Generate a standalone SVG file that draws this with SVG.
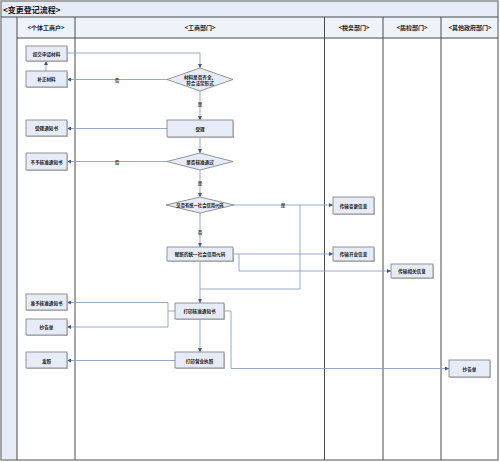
<svg xmlns="http://www.w3.org/2000/svg" width="500" height="462" viewBox="0 0 500 462">
<defs>
<style>
.frame{fill:none;stroke:#8a8a8a;stroke-width:1.5}
.lane{stroke:#4a4a4a;stroke-width:1;fill:none}
.band{fill:#e6ecf7}
.hdr{fill:#eef2f9}
.box{fill:#e6ecf7;stroke:#7a7a7a;stroke-width:0.8}
.shadow{fill:#c8c8c8}
.t{font-family:"Noto Sans CJK SC","Noto Sans",sans-serif;font-size:4.6px;font-weight:bold;fill:#222;text-anchor:middle;dominant-baseline:central}
.h{font-family:"Noto Sans CJK SC","Noto Sans",sans-serif;font-size:6px;font-weight:bold;fill:#222;text-anchor:middle;dominant-baseline:central}
.title{font-family:"Noto Sans CJK SC","Noto Sans",sans-serif;font-size:8px;font-weight:bold;fill:#111;dominant-baseline:central}
.c{fill:none;stroke:#8a9fc2;stroke-width:0.9}
.lbl{font-family:"Noto Sans CJK SC","Noto Sans",sans-serif;font-size:4.6px;font-weight:bold;fill:#444;text-anchor:middle;dominant-baseline:central}
</style>
<marker id="arr" viewBox="0 0 6 6" refX="6" refY="3" markerWidth="4" markerHeight="4" orient="auto" markerUnits="userSpaceOnUse">
<path d="M0,0 L6,3 L0,6 Z" fill="#3d5a8a"/>
</marker>
</defs>
<rect x="0" y="0" width="500" height="462" fill="#ffffff"/>
<g id="pool">
<rect class="band" x="1" y="1" width="497" height="16"/>
<rect class="band" x="1" y="17" width="16" height="443"/>
<rect class="hdr" x="17" y="17" width="481" height="21"/>
<rect class="frame" x="1" y="1" width="497" height="459"/>
<line class="lane" x1="1" y1="17" x2="498" y2="17"/>
<line class="lane" x1="17" y1="38" x2="498" y2="38"/>
<line class="lane" x1="17" y1="17" x2="17" y2="460"/>
<line class="lane" x1="75" y1="17" x2="75" y2="460"/>
<line class="lane" x1="324.5" y1="17" x2="324.5" y2="460"/>
<line class="lane" x1="383" y1="17" x2="383" y2="460"/>
<line class="lane" x1="441" y1="17" x2="441" y2="460"/>
<text class="title" x="3" y="9.5">&lt;变更登记流程&gt;</text>
<text class="h" x="46" y="27.5">&lt;个体工商户&gt;</text>
<text class="h" x="200" y="27.5">&lt;工商部门&gt;</text>
<text class="h" x="354" y="27.5">&lt;税务部门&gt;</text>
<text class="h" x="412" y="27.5">&lt;质检部门&gt;</text>
<text class="h" x="470" y="27.5">&lt;其他政府部门&gt;</text>
</g>
<g id="connectors">
<polyline class="c" points="67,53 200,53 200,68" marker-end="url(#arr)"/>
<line class="c" x1="167" y1="79.5" x2="67" y2="79.5" marker-end="url(#arr)"/>
<line class="c" x1="46" y1="71" x2="46" y2="61" marker-end="url(#arr)"/>
<line class="c" x1="200" y1="91" x2="200" y2="120" marker-end="url(#arr)"/>
<line class="c" x1="167" y1="128.5" x2="67" y2="128.5" marker-end="url(#arr)"/>
<line class="c" x1="200" y1="137" x2="200" y2="153" marker-end="url(#arr)"/>
<line class="c" x1="167" y1="161.5" x2="67" y2="161.5" marker-end="url(#arr)"/>
<line class="c" x1="200" y1="170" x2="200" y2="197" marker-end="url(#arr)"/>
<line class="c" x1="234" y1="205" x2="333" y2="205" marker-end="url(#arr)"/>
<polyline class="c" points="300,205 300,289 200,289"/>
<line class="c" x1="200" y1="213" x2="200" y2="247" marker-end="url(#arr)"/>
<line class="c" x1="233" y1="254" x2="333" y2="254" marker-end="url(#arr)"/>
<polyline class="c" points="239,254 239,271 391,271" marker-end="url(#arr)"/>
<line class="c" x1="200" y1="261" x2="200" y2="303" marker-end="url(#arr)"/>
<polyline class="c" points="175,311 168,311 168,302.5 67,302.5" marker-end="url(#arr)"/>
<polyline class="c" points="168,311 168,327 67,327" marker-end="url(#arr)"/>
<line class="c" x1="200" y1="319" x2="200" y2="352" marker-end="url(#arr)"/>
<line class="c" x1="175" y1="360.5" x2="67" y2="360.5" marker-end="url(#arr)"/>
<polyline class="c" points="224,311 231,311 231,368.5 449,368.5" marker-end="url(#arr)"/>
<text class="lbl" x="117" y="79.5">否</text>
<text class="lbl" x="200" y="104">是</text>
<text class="lbl" x="117" y="161.5">否</text>
<text class="lbl" x="200" y="183">是</text>
<text class="lbl" x="283" y="205">是</text>
<text class="lbl" x="200" y="231.5">否</text>
</g>
<g id="n1"><rect class="shadow" x="27" y="47" width="41" height="15"/><rect class="box" x="26" y="46" width="41" height="15"/><text class="t" x="46.5" y="53.5">提交申请材料</text></g>
<g id="n2"><rect class="shadow" x="27" y="72" width="41" height="16"/><rect class="box" x="26" y="71" width="41" height="16"/><text class="t" x="46.5" y="79">补正材料</text></g>
<g id="d1"><polygon points="200,68 233,79.5 200,91 167,79.5" fill="#e6ecf7" stroke="#7a7a7a" stroke-width="0.8"/><text class="t" x="200" y="76.5">材料是否齐全、</text><text class="t" x="200" y="82.5">符合法定形式</text></g>
<g id="n3"><rect class="shadow" x="168" y="121" width="66" height="17"/><rect class="box" x="167" y="120" width="66" height="17"/><text class="t" x="200" y="128.5">受理</text></g>
<g id="n4"><rect class="shadow" x="27" y="121" width="41" height="16"/><rect class="box" x="26" y="120" width="41" height="16"/><text class="t" x="46.5" y="128">受理通知书</text></g>
<g id="d2"><polygon points="200,153 233,161.5 200,170 167,161.5" fill="#e6ecf7" stroke="#7a7a7a" stroke-width="0.8"/><text class="t" x="200" y="161.5">是否核准通过</text></g>
<g id="n5"><rect class="shadow" x="27" y="154" width="41" height="17"/><rect class="box" x="26" y="153" width="41" height="17"/><text class="t" x="46.5" y="161.5">不予核准通知书</text></g>
<g id="d3"><polygon points="200,197 234,205 200,213 166,205" fill="#e6ecf7" stroke="#7a7a7a" stroke-width="0.8"/><text class="t" x="200" y="205" style="font-size:4.3px">是否有统一社会信用代码</text></g>
<g id="n6"><rect class="shadow" x="334" y="198" width="41" height="17"/><rect class="box" x="333" y="197" width="41" height="17"/><text class="t" x="353.5" y="205.5">传输变更信息</text></g>
<g id="n7"><rect class="shadow" x="168" y="248" width="66" height="14"/><rect class="box" x="167" y="247" width="66" height="14"/><text class="t" x="200" y="254">赋新的统一社会信用代码</text></g>
<g id="n8"><rect class="shadow" x="334" y="248" width="41" height="14"/><rect class="box" x="333" y="247" width="41" height="14"/><text class="t" x="353.5" y="254">传输开业信息</text></g>
<g id="n9"><rect class="shadow" x="392" y="265" width="42" height="14"/><rect class="box" x="391" y="264" width="42" height="14"/><text class="t" x="412" y="271">传输相关信息</text></g>
<g id="n10"><rect class="shadow" x="27" y="295" width="41" height="16"/><rect class="box" x="26" y="294" width="41" height="16"/><text class="t" x="46.5" y="302.5">准予核准通知书</text></g>
<g id="n11"><rect class="shadow" x="176" y="304" width="49" height="16"/><rect class="box" x="175" y="303" width="49" height="16"/><text class="t" x="199.5" y="311">打印核准通知书</text></g>
<g id="n12"><rect class="shadow" x="27" y="320" width="41" height="16"/><rect class="box" x="26" y="319" width="41" height="16"/><text class="t" x="46.5" y="327">抄告单</text></g>
<g id="n13"><rect class="shadow" x="27" y="353" width="41" height="16"/><rect class="box" x="26" y="352" width="41" height="16"/><text class="t" x="46.5" y="360.5">发照</text></g>
<g id="n14"><rect class="shadow" x="176" y="353" width="49" height="16"/><rect class="box" x="175" y="352" width="49" height="16"/><text class="t" x="199.5" y="360.5">打印营业执照</text></g>
<g id="n15"><rect class="shadow" x="450" y="361" width="41" height="17"/><rect class="box" x="449" y="360" width="41" height="17"/><text class="t" x="469.5" y="368.5">抄告单</text></g>
</svg>
